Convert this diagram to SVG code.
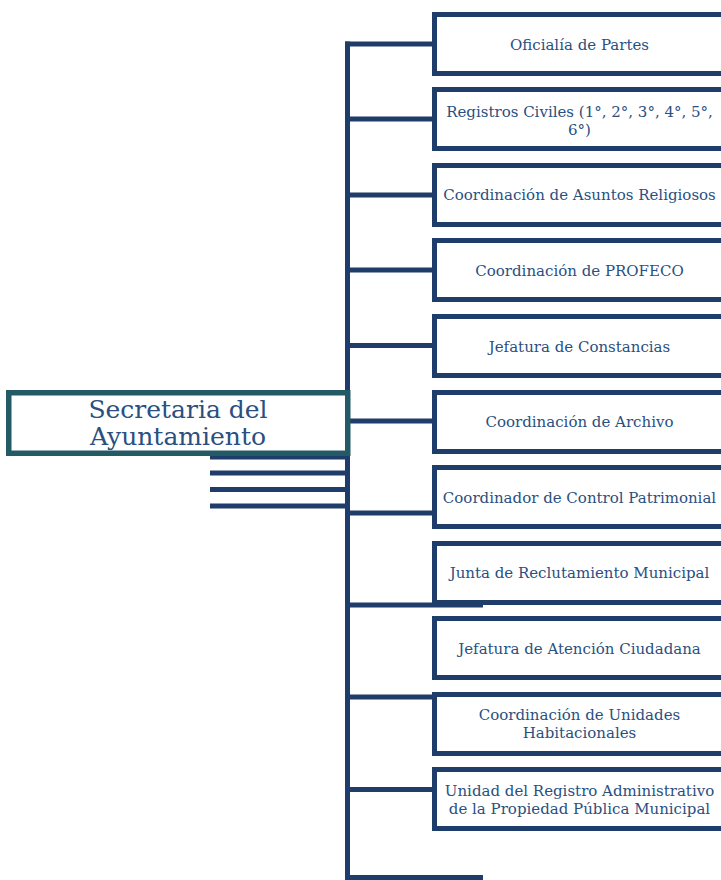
<svg xmlns="http://www.w3.org/2000/svg" width="721" height="880" viewBox="0 0 721 880">
<style>
.ln{stroke:#1f3d6b;stroke-width:5;fill:none}
.bx{fill:#fff;stroke:#1f3d6b;stroke-width:5}
.t{font-family:"DejaVu Serif","Liberation Serif",serif;font-size:15px;fill:#2a4f80;text-anchor:middle}
.mt{font-family:"DejaVu Serif","Liberation Serif",serif;font-size:25px;fill:#2a4f80;text-anchor:middle}
</style>
<g id="connectors">
<path class="ln" d="M347.5 41.5V880"/>
<path class="ln" d="M345 44H434"/>
<path class="ln" d="M345 119H434"/>
<path class="ln" d="M345 195H434"/>
<path class="ln" d="M345 270H434"/>
<path class="ln" d="M345 345.5H434"/>
<path class="ln" d="M345 421H434"/>
<path class="ln" d="M345 513H434"/>
<path class="ln" d="M345 605H483"/>
<path class="ln" d="M345 697H434"/>
<path class="ln" d="M345 789.5H434"/>
<path class="ln" d="M345 877.5H483"/>
<path class="ln" d="M210 457H347"/>
<path class="ln" d="M210 473H347"/>
<path class="ln" d="M210 489.5H347"/>
<path class="ln" d="M210 506H347"/>
</g>
<g id="main">
<rect x="8.75" y="392.75" width="339" height="60.5" fill="#fff" stroke="#245a66" stroke-width="5.5"/>
<text class="mt" x="178" y="418">Secretaria del</text>
<text class="mt" x="178" y="445">Ayuntamiento</text>
</g>
<g id="n1"><rect class="bx" x="434.5" y="14.5" width="290" height="59"/><text class="t" x="579.5" y="50">Oficialía de Partes</text></g>
<g id="n2"><rect class="bx" x="434.5" y="89.5" width="290" height="59"/><text class="t" x="579.5" y="117">Registros Civiles (1°, 2°, 3°, 4°, 5°,</text><text class="t" x="579.5" y="135">6°)</text></g>
<g id="n3"><rect class="bx" x="434.5" y="165.5" width="290" height="59"/><text class="t" x="579.5" y="200">Coordinación de Asuntos Religiosos</text></g>
<g id="n4"><rect class="bx" x="434.5" y="240.5" width="290" height="59"/><text class="t" x="579.5" y="276">Coordinación de PROFECO</text></g>
<g id="n5"><rect class="bx" x="434.5" y="316.5" width="290" height="59"/><text class="t" x="579.5" y="352">Jefatura de Constancias</text></g>
<g id="n6"><rect class="bx" x="434.5" y="392.5" width="290" height="59"/><text class="t" x="579.5" y="427">Coordinación de Archivo</text></g>
<g id="n7"><rect class="bx" x="434.5" y="467.5" width="290" height="59"/><text class="t" x="579.5" y="503">Coordinador de Control Patrimonial</text></g>
<g id="n8"><rect class="bx" x="434.5" y="543.5" width="290" height="59"/><text class="t" x="579.5" y="578">Junta de Reclutamiento Municipal</text></g>
<g id="n9"><rect class="bx" x="434.5" y="618.5" width="290" height="59"/><text class="t" x="579.5" y="654">Jefatura de Atención Ciudadana</text></g>
<g id="n10"><rect class="bx" x="434.5" y="694.5" width="290" height="59"/><text class="t" x="579.5" y="720">Coordinación de Unidades</text><text class="t" x="579.5" y="738">Habitacionales</text></g>
<g id="n11"><rect class="bx" x="434.5" y="769.5" width="290" height="59"/><text class="t" x="579.5" y="796">Unidad del Registro Administrativo</text><text class="t" x="579.5" y="814">de la Propiedad Pública Municipal</text></g>
</svg>
